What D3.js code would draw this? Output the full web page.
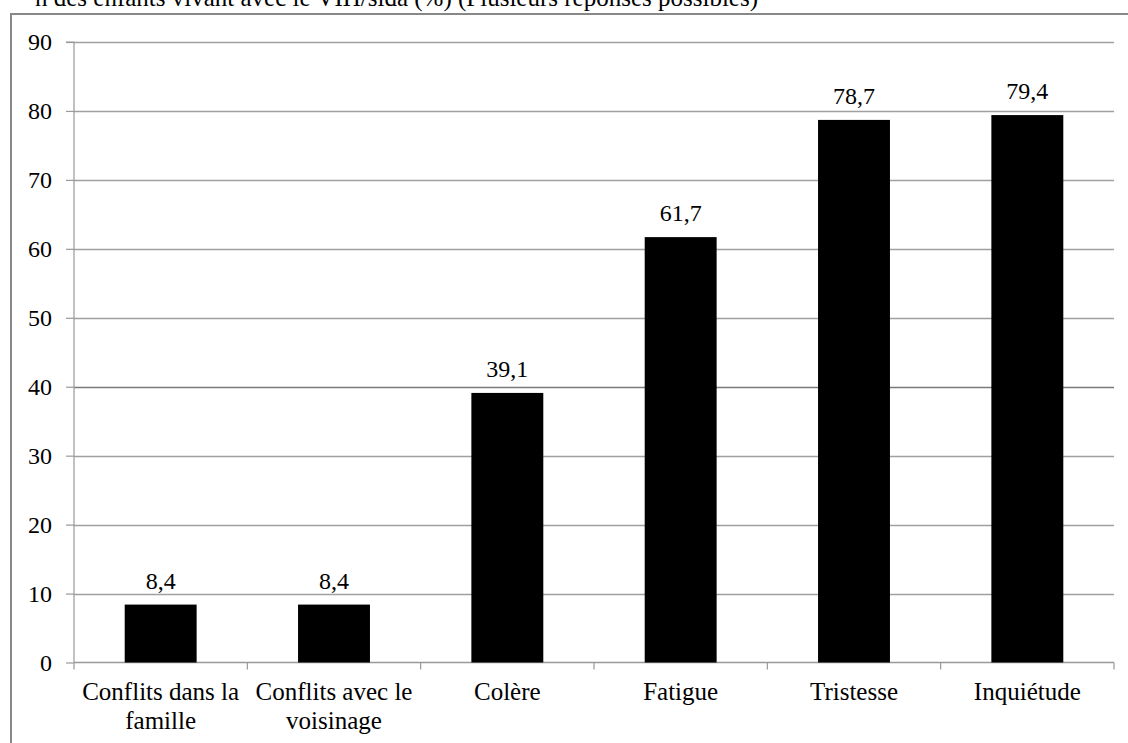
<!DOCTYPE html>
<html><head><meta charset="utf-8">
<script src="https://cdn.jsdelivr.net/npm/d3@7"></script>
<style>
html,body{margin:0;padding:0;background:#fff;overflow:hidden;}
svg{display:block;}
</style></head>
<body>
<svg id="chart" width="1128" height="743"></svg>
<script>
const titleText = "n des enfants vivant avec le VIH/sida (%) (Plusieurs réponses possibles)";
const categories = [["Conflits dans la","famille"],["Conflits avec le","voisinage"],["Colère"],["Fatigue"],["Tristesse"],["Inquiétude"]];
const values = [8.4, 8.4, 39.1, 61.7, 78.7, 79.4];
const valueLabels = ["8,4","8,4","39,1","61,7","78,7","79,4"];
const yTicks = [0,10,20,30,40,50,60,70,80,90];

(function(){
const FONT = "Tinos, 'Liberation Serif', 'DejaVu Serif', 'Noto Serif', serif";
const svg = d3.select("#chart");
const W = 1128, H = 743;
const mLeft = 74, mRight = 1114, mTop = 42, mBottom = 662.5;

// outer frame
svg.append("line").attr("x1",11).attr("x2",11).attr("y1",14).attr("y2",H+5)
  .attr("stroke","#888").attr("stroke-width",2);
svg.append("line").attr("x1",10).attr("x2",W+5).attr("y1",14).attr("y2",14)
  .attr("stroke","#888").attr("stroke-width",2);

// title (clipped at top, as in the reference)
svg.append("text").attr("x",758).attr("y",6).attr("text-anchor","end")
  .attr("font-family",FONT).attr("font-size",25).text(titleText);

const x = d3.scaleBand().domain(d3.range(categories.length)).range([mLeft,mRight]).paddingInner(0.585).paddingOuter(0.2925);
const xb = d3.scaleBand().domain(d3.range(categories.length)).range([mLeft,mRight]);
const y = d3.scaleLinear().domain([0,90]).range([mBottom,mTop]);

// gridlines
svg.append("g").selectAll("line").data(yTicks.filter(d=>d>0)).join("line")
  .attr("x1",mLeft).attr("x2",mRight)
  .attr("y1",d=>Math.round(y(d))+0.5).attr("y2",d=>Math.round(y(d))+0.5)
  .attr("stroke",d=>d===40?"#7a7a7a":"#a0a0a0").attr("stroke-width",1.3);

// y axis
const yAxis = d3.axisLeft(y).tickValues(yTicks).tickSize(8).tickPadding(14).tickFormat(d3.format("d"));
const gy = svg.append("g").attr("transform",`translate(${mLeft},0)`).call(yAxis);
gy.attr("font-family",FONT).attr("font-size",24);
gy.select(".domain").attr("stroke","#999").attr("stroke-width",1.2).attr("d",`M-8,${mTop}H0V${mBottom}`);
gy.selectAll(".tick line").attr("stroke","#999").attr("stroke-width",1.2);
gy.selectAll(".tick text").attr("fill","#000");

// x axis
svg.append("line").attr("x1",mLeft).attr("x2",mRight).attr("y1",mBottom).attr("y2",mBottom)
  .attr("stroke","#999").attr("stroke-width",1.3);
const boundaries = d3.range(categories.length+1).map(i=> i<categories.length ? xb(i) : mRight);
svg.append("g").selectAll("line").data(boundaries).join("line")
  .attr("x1",d=>d).attr("x2",d=>d).attr("y1",mBottom).attr("y2",mBottom+7)
  .attr("stroke","#999").attr("stroke-width",1.2);

// bars
svg.append("g").selectAll("rect").data(values).join("rect")
  .attr("x",(d,i)=>x(i)).attr("width",x.bandwidth())
  .attr("y",d=>y(d)).attr("height",d=>mBottom-y(d)).attr("fill","#000");

// value labels
svg.append("g").attr("font-family",FONT).attr("font-size",24).selectAll("text").data(values).join("text")
  .attr("x",(d,i)=>x(i)+x.bandwidth()/2).attr("y",d=>y(d)-16)
  .attr("text-anchor","middle").text((d,i)=>valueLabels[i]);

// category labels
const cl = svg.append("g").attr("font-family",FONT).attr("font-size",25).selectAll("text").data(categories).join("text")
  .attr("x",(d,i)=>xb(i)+xb.bandwidth()/2).attr("y",700)
  .attr("text-anchor","middle");
cl.selectAll("tspan").data(d=>d).join("tspan")
  .attr("x",function(){return d3.select(this.parentNode).attr("x");})
  .attr("dy",(d,i)=>i===0?0:29).text(d=>d);
})();
</script>
</body></html>
